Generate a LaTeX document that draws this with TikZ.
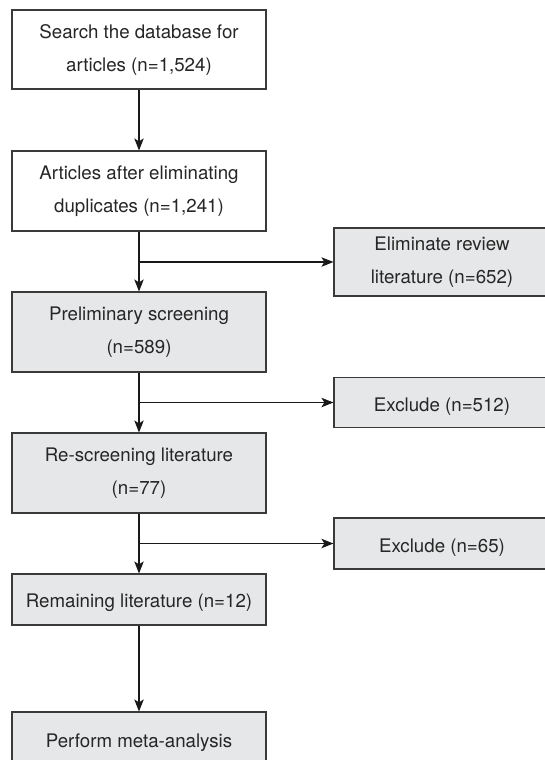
\documentclass[tikz,border=0pt]{standalone}
\usepackage{fontspec}
\setmainfont{TeX Gyre Heros}
\usetikzlibrary{arrows.meta}
\definecolor{boxgray}{HTML}{E6E7E8}
\definecolor{edgegray}{HTML}{3A3A3A}

\begin{document}
\begin{tikzpicture}[x=1pt,y=-1pt,
   stage/.style={draw=edgegray,line width=1.2pt,fill=boxgray,minimum width=254pt,inner sep=0pt,
      align=center,font=\fontsize{18.7}{33}\selectfont,text=black!85,
      execute at begin node={\rule{0pt}{21pt}}},
   plain/.style={stage,fill=white},
   side/.style={stage,minimum width=216pt},
   flow/.style={-{Stealth[length=12pt,width=9.5pt,inset=3pt]},line width=1.1pt,draw=black!90}]
   \useasboundingbox (0,0) rectangle (544,760); % page as the 544x760 reference
   \node[plain,minimum height=79pt] (search) at (139,49.5) {Search the database for\\articles (n=1,524)};
   \node[plain,minimum height=80pt] (dedup) at (139,191) {Articles after eliminating\\duplicates (n=1,241)};
   \node[stage,minimum height=80pt] (prelim) at (139,332) {Preliminary screening\\(n=589)};
   \node[stage,minimum height=80pt] (rescreen) at (139,473) {Re-screening literature\\(n=77)};
   \node[stage,minimum height=51pt] (remain) at (139,599.5) {Remaining literature (n=12)};
   \node[stage,minimum height=54pt] (meta) at (139,739) {Perform meta-analysis};
   \node[side,minimum height=68pt] (elim) at (442,262) {Eliminate review\\literature (n=652)};
   \node[side,minimum height=50pt] (excl1) at (442,402.5) {Exclude (n=512)};
   \node[side,minimum height=51pt] (excl2) at (442,543.5) {Exclude (n=65)};
   \draw[flow] (search) -- (dedup);
   \draw[flow] (dedup) -- (prelim);
   \draw[flow] (prelim) -- (rescreen);
   \draw[flow] (rescreen) -- (remain);
   \draw[flow] (remain) -- (meta);
   \draw[flow] (dedup.south |- elim.west) -- (elim);
   \draw[flow] (prelim.south |- excl1.west) -- (excl1);
   \draw[flow] (rescreen.south |- excl2.west) -- (excl2);
\end{tikzpicture}
\end{document}
